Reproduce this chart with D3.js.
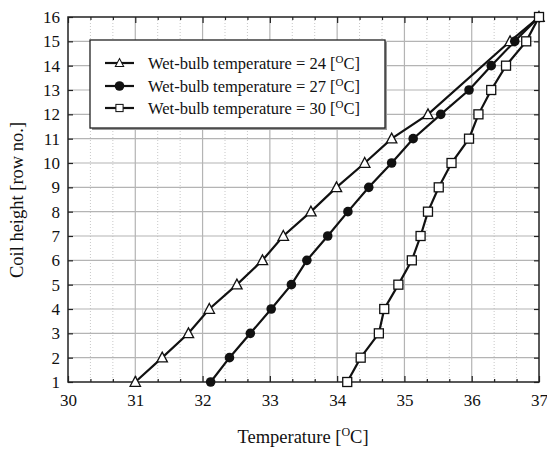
<!DOCTYPE html>
<html><head><meta charset="utf-8">
<script src="https://cdn.jsdelivr.net/npm/d3@7"></script>
<style>body{margin:0;background:#fff}svg{display:block}</style>
</head><body><svg id="c" width="547" height="451" font-family="Liberation Serif"></svg>
<script>
const rows24 = [1,2,3,4,5,6,7,8,9,10,11,12,15,16];
const temps24 = [31.0,31.40,31.79,32.10,32.51,32.89,33.20,33.61,33.99,34.41,34.81,35.35,36.57,37.0];
const rows27 = [1,2,3,4,5,6,7,8,9,10,11,12,13,14,15,16];
const temps27 = [32.12,32.40,32.71,33.02,33.32,33.55,33.86,34.16,34.47,34.81,35.13,35.54,35.96,36.29,36.64,37.0];
const rows30 = [1,2,3,4,5,6,7,8,9,10,11,12,13,14,15,16];
const temps30 = [34.15,34.35,34.62,34.70,34.91,35.11,35.24,35.35,35.51,35.70,35.96,36.10,36.29,36.51,36.81,37.0];
const seriesNames = ["Wet-bulb temperature = 24 [", "Wet-bulb temperature = 27 [", "Wet-bulb temperature = 30 ["];
const markers = ["triangle","circle","square"];
const xTicks = [30,31,32,33,34,35,36,37];
const yTicks = [1,2,3,4,5,6,7,8,9,10,11,12,13,14,15,16];

const FONT = "Liberation Serif";
const svg = d3.select("#c");
const L=68,R=539,T=17,B=382;
const x = d3.scaleLinear().domain([30,37]).range([L,R]);
const y = d3.scaleLinear().domain([1,16]).range([B,T]);

const minor = d3.range(0,21).map(i=>30+i/3).filter(v=>Math.abs(v-Math.round(v))>1e-6);
const g = svg.append("g");
g.selectAll(".mg").data(minor).join("line").attr("x1",d=>x(d)).attr("x2",d=>x(d)).attr("y1",T).attr("y2",B)
 .attr("stroke","#c8c8c8").attr("stroke-width",1).attr("stroke-dasharray","1,2");
g.selectAll(".gx").data(xTicks.slice(1,-1)).join("line").attr("x1",d=>x(d)).attr("x2",d=>x(d)).attr("y1",T).attr("y2",B)
 .attr("stroke","#b4b4b4").attr("stroke-width",1.2);
g.selectAll(".gy").data(yTicks.slice(1,-1)).join("line").attr("y1",d=>y(d)).attr("y2",d=>y(d)).attr("x1",L).attr("x2",R)
 .attr("stroke","#b4b4b4").attr("stroke-width",1.2);

const ax = d3.axisBottom(x).tickValues(xTicks).tickSize(-6).tickPadding(12).tickFormat(d3.format("d"));
const axm = d3.axisBottom(x).tickValues(minor).tickSize(-3).tickFormat("");
const axt = d3.axisTop(x).tickValues(xTicks).tickSize(-6).tickFormat("");
const axtm = d3.axisTop(x).tickValues(minor).tickSize(-3).tickFormat("");
const ay = d3.axisLeft(y).tickValues(yTicks).tickSize(-5).tickPadding(8).tickFormat(d3.format("d"));
const ayr = d3.axisRight(y).tickValues(yTicks).tickSize(-5).tickFormat("");
function style(sel){sel.attr("font-family",FONT).attr("font-size",17);sel.select(".domain").remove();sel.selectAll("line").attr("stroke","#222").attr("stroke-width",1.2);sel.selectAll("text").attr("font-family",FONT).attr("font-size",17).attr("fill","#111");}
svg.append("g").attr("transform",`translate(0,${B})`).call(ax).call(style);
svg.append("g").attr("transform",`translate(0,${B})`).call(axm).call(style);
svg.append("g").attr("transform",`translate(0,${T})`).call(axt).call(style);
svg.append("g").attr("transform",`translate(0,${T})`).call(axtm).call(style);
svg.append("g").attr("transform",`translate(${L},0)`).call(ay).call(style);
svg.append("g").attr("transform",`translate(${R},0)`).call(ayr).call(style);
svg.append("rect").attr("x",L).attr("y",T).attr("width",R-L).attr("height",B-T).attr("fill","none").attr("stroke","#222").attr("stroke-width",1.5);

const data = [
  rows24.map((r,i)=>({r,t:temps24[i]})),
  rows27.map((r,i)=>({r,t:temps27[i]})),
  rows30.map((r,i)=>({r,t:temps30[i]}))
];
const line = d3.line().x(d=>x(d.t)).y(d=>y(d.r));
function drawMarker(sel,type){
  if(type==="circle") sel.append("circle").attr("r",4.8).attr("fill","#111");
  else if(type==="square") sel.append("rect").attr("x",-4.5).attr("y",-4.5).attr("width",9).attr("height",9).attr("fill","#fff").attr("stroke","#111").attr("stroke-width",1.3);
  else sel.append("path").attr("d","M0,-5.5L5.2,4.3L-5.2,4.3Z").attr("fill","#fff").attr("stroke","#111").attr("stroke-width",1.3);
}
data.forEach((ds,k)=>{
  svg.append("path").datum(ds).attr("d",line).attr("fill","none").attr("stroke","#111").attr("stroke-width",2.2);
});
data.forEach((ds,k)=>{
  svg.append("g").selectAll("g").data(ds).join("g").attr("transform",d=>`translate(${x(d.t)},${y(d.r)})`).each(function(){drawMarker(d3.select(this),markers[k]);});
});

const lg = svg.append("g");
lg.append("rect").attr("x",92).attr("y",42).attr("width",295).attr("height",88).attr("fill","#999");
lg.append("rect").attr("x",90).attr("y",40).attr("width",295).attr("height",88).attr("fill","#fff").attr("stroke","#222").attr("stroke-width",1.3);
[63,86,108].forEach((yy,k)=>{
  lg.append("line").attr("x1",105).attr("x2",134).attr("y1",yy).attr("y2",yy).attr("stroke","#111").attr("stroke-width",2.2);
  const m = lg.append("g").attr("transform",`translate(119.5,${yy})`);
  drawMarker(m,markers[k]);
  if(markers[k]!=="circle") m.select("*").attr("transform","scale(0.8)");
  const t = lg.append("text").attr("x",148).attr("y",yy+5.5).attr("font-family",FONT).attr("font-size",16.5).attr("fill","#111");
  t.append("tspan").text(seriesNames[k]);
  t.append("tspan").attr("dy",-6).attr("font-size",11).text("O");
  t.append("tspan").attr("dy",6).text("C]");
});

const xt = svg.append("text").attr("x",303).attr("y",443).attr("text-anchor","middle").attr("font-family",FONT).attr("font-size",18.5).attr("fill","#111");
xt.append("tspan").text("Temperature [");
xt.append("tspan").attr("dy",-7).attr("font-size",12).text("O");
xt.append("tspan").attr("dy",7).text("C]");
svg.append("text").attr("transform","translate(23,200) rotate(-90)").attr("text-anchor","middle").attr("font-family",FONT).attr("font-size",18.5).attr("fill","#111").text("Coil height [row no.]");
</script></body></html>
